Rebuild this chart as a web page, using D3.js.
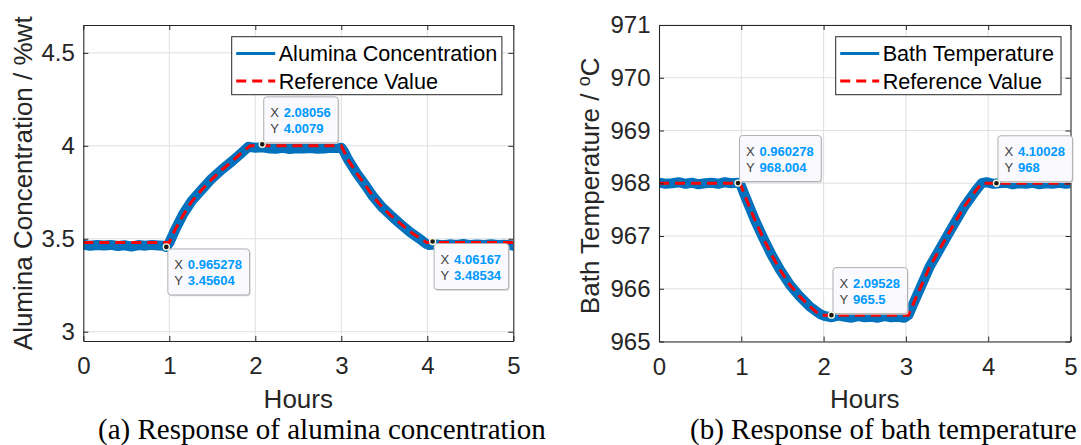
<!DOCTYPE html>
<html>
<head>
<meta charset="utf-8">
<script src="https://cdn.jsdelivr.net/npm/d3@7"></script>
<style>
  html, body { margin: 0; padding: 0; background: #fff; }
  svg { display: block; font-family: "Liberation Sans", Arial, sans-serif; }
</style>
</head>
<body>
<svg id="chart" width="1081" height="445"></svg>
<script>
// ---- shared axis ticks ----
const hourTicks = [0, 1, 2, 3, 4, 5];
const alumTicks = [3, 3.5, 4, 4.5];
const tempTicks = [965, 966, 967, 968, 969, 970, 971];

// ---- (a) alumina concentration, measured ----
const alumHours = [0, 0.08, 0.16, 0.24, 0.32, 0.40, 0.48, 0.56, 0.64, 0.72, 0.80, 0.88, 0.94, 0.965,
  1.0, 1.07, 1.16, 1.26, 1.38, 1.49, 1.61, 1.73, 1.84, 1.92, 1.96,
  2.0, 2.08, 2.16, 2.24, 2.32, 2.40, 2.48, 2.56, 2.64, 2.72, 2.80, 2.88, 2.96, 3.0,
  3.03, 3.08, 3.18, 3.28, 3.37, 3.47, 3.57, 3.68, 3.80, 3.92, 3.98,
  4.02, 4.1, 4.18, 4.26, 4.34, 4.42, 4.50, 4.58, 4.66, 4.74, 4.82, 4.90, 4.98, 5.0];
const alumValues = [3.468, 3.462, 3.466, 3.464, 3.467, 3.461, 3.465, 3.458, 3.466, 3.463, 3.467, 3.464, 3.462, 3.456,
  3.478, 3.55, 3.632, 3.703, 3.766, 3.822, 3.872, 3.917, 3.962, 3.995, 3.992,
  3.99, 3.992, 3.986, 3.984, 3.989, 3.983, 3.987, 3.985, 3.988, 3.984, 3.986, 3.99, 3.988, 3.99,
  3.97, 3.925, 3.852, 3.788, 3.727, 3.672, 3.628, 3.582, 3.536, 3.497, 3.475,
  3.466, 3.469, 3.465, 3.47, 3.467, 3.472, 3.466, 3.469, 3.467, 3.47, 3.466, 3.468, 3.465, 3.462];

// ---- (a) alumina concentration, reference ----
const alumRefHours = [0, 1.0, 1.066, 1.163, 1.26, 1.377, 1.493, 1.609, 1.726, 1.842, 1.94,
  3.0, 3.081, 3.179, 3.276, 3.372, 3.47, 3.566, 3.683, 3.799, 3.915, 3.995, 5.0];
const alumRefValues = [3.48, 3.48, 3.548, 3.628, 3.70, 3.763, 3.82, 3.87, 3.915, 3.963, 4.0,
  4.0, 3.924, 3.853, 3.79, 3.727, 3.673, 3.629, 3.584, 3.539, 3.503, 3.48, 3.48];

// ---- (a) data tips ----
const alumTipHours = [0.965278, 2.08056, 4.06167];
const alumTipValues = [3.45604, 4.0079, 3.48534];

// ---- (b) bath temperature, measured ----
const tempHours = [0, 0.08, 0.16, 0.24, 0.32, 0.40, 0.48, 0.56, 0.64, 0.72, 0.80, 0.88, 0.96,
  0.984, 1.066, 1.166, 1.267, 1.369, 1.47, 1.592, 1.713, 1.835, 1.956,
  2.02, 2.1, 2.18, 2.26, 2.34, 2.42, 2.5, 2.58, 2.66, 2.74, 2.82, 2.9, 2.98,
  3.03, 3.1, 3.29, 3.52, 3.71, 3.84, 3.92,
  3.98, 4.06, 4.14, 4.22, 4.3, 4.38, 4.46, 4.54, 4.62, 4.7, 4.78, 4.86, 4.94, 5.0];
const tempValues = [968.01, 967.99, 968.0, 968.02, 967.99, 968.01, 967.98, 968.0, 968.01, 967.99, 968.02, 968.0, 968.01,
  968.0, 967.68, 967.3, 966.96, 966.64, 966.36, 966.07, 965.85, 965.66, 965.52,
  965.48, 965.46, 965.49, 965.47, 965.45, 965.48, 965.46, 965.47, 965.45, 965.48, 965.46, 965.47, 965.45,
  965.5, 965.75, 966.42, 967.05, 967.56, 967.84, 968.0,
  968.02, 967.99, 968.0, 968.01, 967.98, 968.0, 967.99, 968.01, 967.98, 968.0, 967.99, 968.01, 967.99, 968.0];

// ---- (b) bath temperature, reference ----
const tempRefHours = [0, 0.984, 1.066, 1.166, 1.267, 1.369, 1.47, 1.592, 1.713, 1.835, 1.956,
  3.03, 3.1, 3.29, 3.52, 3.71, 3.84, 3.92, 5.0];
const tempRefValues = [968, 968, 967.68, 967.3, 966.96, 966.64, 966.36, 966.07, 965.85, 965.66, 965.5,
  965.5, 965.75, 966.42, 967.05, 967.56, 967.84, 968, 968];

// ---- (b) data tips ----
const tempTipHours = [0.960278, 2.09528, 4.10028];
const tempTipValues = [968.004, 965.5, 968];

// ---- styling ----
const AXIS = "#262626";
const GRID = "#dfdfdf";
const BLUE = "#0072BD";
const RED = "#FF0000";
const TIP_VALUE = "rgb(0,153,255)";
const TIP_LABEL = "#404040";

const svg = d3.select("#chart");
const zip = (a, b) => a.map((v, i) => [v, b[i]]);

const panels = [
  {
    id: "a",
    left: 83.3, right: 513.3, top: 25, bottom: 341,
    yDomain: [2.95, 4.65], yTicks: alumTicks,
    measured: zip(alumHours, alumValues),
    reference: zip(alumRefHours, alumRefValues),
    tips: zip(alumTipHours, alumTipValues),
    tipAbove: [false, true, false],
    yLabel: ["Alumina Concentration / %wt"],
    yLabelX: 31.7, yLabelY: 183.3,
    legendNames: ["Alumina Concentration", "Reference Value"],
    legendBox: [231.7, 36.7, 270.2, 58],
    caption: "(a) Response of alumina concentration", captionX: 98
  },
  {
    id: "b",
    left: 659, right: 1070.5, top: 25, bottom: 341.5,
    yDomain: [965, 971], yTicks: tempTicks,
    measured: zip(tempHours, tempValues),
    reference: zip(tempRefHours, tempRefValues),
    tips: zip(tempTipHours, tempTipValues),
    tipAbove: [true, true, true],
    yLabel: ["Bath Temperature / ", "o", "C"],
    yLabelX: 599.4, yLabelY: 185.8,
    legendNames: ["Bath Temperature", "Reference Value"],
    legendBox: [835.7, 36.7, 225.3, 58],
    caption: "(b) Response of bath temperature", captionX: 690
  }
];

const tipLayer = [];

panels.forEach(p => {
  const g = svg.append("g").attr("class", "panel-" + p.id);
  const x = d3.scaleLinear().domain([0, 5]).range([p.left, p.right]);
  const y = d3.scaleLinear().domain(p.yDomain).range([p.bottom, p.top]);

  // plot background
  g.append("rect")
    .attr("x", p.left).attr("y", p.top)
    .attr("width", p.right - p.left).attr("height", p.bottom - p.top)
    .attr("fill", "#fff");

  // grid
  g.append("g").selectAll("line").data(hourTicks.slice(1, -1)).join("line")
    .attr("x1", d => x(d)).attr("x2", d => x(d))
    .attr("y1", p.top).attr("y2", p.bottom)
    .attr("stroke", GRID).attr("stroke-width", 1);
  g.append("g").selectAll("line").data(p.yTicks).join("line")
    .attr("y1", d => y(d)).attr("y2", d => y(d))
    .attr("x1", p.left).attr("x2", p.right)
    .attr("stroke", GRID).attr("stroke-width", 1);

  // data lines (clipped to the plot box)
  const clipId = "clip-" + p.id;
  svg.append("clipPath").attr("id", clipId).append("rect")
    .attr("x", p.left).attr("y", p.top)
    .attr("width", p.right - p.left).attr("height", p.bottom - p.top);
  const line = d3.line().x(d => x(d[0])).y(d => y(d[1]));
  const lines = g.append("g").attr("clip-path", `url(#${clipId})`);
  lines.append("path").datum(p.measured)
    .attr("d", line).attr("fill", "none")
    .attr("stroke", BLUE).attr("stroke-width", 10)
    .attr("stroke-linejoin", "round").attr("stroke-linecap", "round");
  lines.append("path").datum(p.reference)
    .attr("d", line).attr("fill", "none")
    .attr("stroke", RED).attr("stroke-width", 3)
    .attr("stroke-dasharray", "10,6");

  // axes: labelled bottom/left, tick-only top/right, ticks pointing inward
  const styleAxis = sel => {
    sel.select(".domain").attr("stroke", AXIS).attr("stroke-width", 1.1);
    sel.selectAll(".tick line").attr("stroke", AXIS).attr("stroke-width", 1);
    sel.selectAll(".tick text").attr("fill", AXIS)
      .style("font-size", "24px").style("font-family", "'Liberation Sans', Arial, sans-serif");
  };
  g.append("g").attr("transform", `translate(0,${p.bottom})`)
    .call(d3.axisBottom(x).tickValues(hourTicks).tickFormat(d3.format("d"))
      .tickSizeInner(-5).tickSizeOuter(0).tickPadding(16))
    .call(styleAxis);
  g.append("g").attr("transform", `translate(0,${p.top})`)
    .call(d3.axisTop(x).tickValues(hourTicks).tickFormat("")
      .tickSizeInner(-5).tickSizeOuter(0))
    .call(styleAxis);
  g.append("g").attr("transform", `translate(${p.left},0)`)
    .call(d3.axisLeft(y).tickValues(p.yTicks).tickFormat(d => String(d))
      .tickSizeInner(-5).tickSizeOuter(0).tickPadding(8.5))
    .call(styleAxis);
  g.append("g").attr("transform", `translate(${p.right},0)`)
    .call(d3.axisRight(y).tickValues(p.yTicks).tickFormat("")
      .tickSizeInner(-5).tickSizeOuter(0))
    .call(styleAxis);

  // axis titles
  g.append("text")
    .attr("x", (p.left + p.right) / 2).attr("y", 408)
    .attr("text-anchor", "middle").attr("fill", AXIS)
    .style("font-size", "26px").text("Hours");
  const yl = g.append("text")
    .attr("transform", `translate(${p.yLabelX},${p.yLabelY}) rotate(-90)`)
    .attr("text-anchor", "middle").attr("fill", AXIS)
    .style("font-size", "26px");
  yl.append("tspan").text(p.yLabel[0]);
  if (p.yLabel.length > 1) {
    yl.append("tspan").attr("dy", "-0.55em").style("font-size", "18px").text(p.yLabel[1]);
    yl.append("tspan").attr("dy", "0.38em").text(p.yLabel[2]);
  }

  // legend
  const [lx, ly, lw, lh] = p.legendBox;
  const lg = g.append("g");
  lg.append("rect").attr("x", lx).attr("y", ly).attr("width", lw).attr("height", lh)
    .attr("fill", "#fff").attr("stroke", AXIS).attr("stroke-width", 1);
  const rows = [
    { name: p.legendNames[0], color: BLUE, dash: null, cy: ly + 16.8 },
    { name: p.legendNames[1], color: RED, dash: "10,6", cy: ly + 44.2 }
  ];
  rows.forEach(r => {
    lg.append("line")
      .attr("x1", lx + 4.5).attr("x2", lx + 43.5)
      .attr("y1", r.cy).attr("y2", r.cy)
      .attr("stroke", r.color).attr("stroke-width", 3)
      .attr("stroke-dasharray", r.dash);
    lg.append("text")
      .attr("x", lx + 47).attr("y", r.cy).attr("dy", "0.36em")
      .attr("fill", "#000").style("font-size", "21.6px").text(r.name);
  });

  // caption
  svg.append("text")
    .attr("x", p.captionX).attr("y", 439)
    .attr("fill", "#000")
    .style("font-family", "'Liberation Serif', 'Times New Roman', serif")
    .style("font-size", "29px")
    .text(p.caption);

  p.tips.forEach((t, i) => tipLayer.push({ x: x(t[0]), y: y(t[1]), hour: t[0], value: t[1], above: p.tipAbove[i] }));
});

// data tips drawn last so they sit above everything
const tipsG = svg.append("g").attr("class", "datatips");
tipLayer.forEach(t => {
  const tg = tipsG.append("g");
  const boxH = 46;
  const bx = t.x + 1.5;
  const by = t.above ? t.y - 1.5 - boxH : t.y + 2;

  const shadow = tg.append("rect");
  const box = tg.append("rect");
  const txt = tg.append("g").style("font-size", "13px");
  const rowsT = [["X", String(t.hour)], ["Y", String(t.value)]];
  let maxW = 0;
  rowsT.forEach((r, k) => {
    const base = by + 20.5 + k * 16;
    txt.append("text").attr("x", bx + 6.5).attr("y", base)
      .attr("fill", TIP_LABEL).text(r[0]);
    const v = txt.append("text").attr("x", bx + 20).attr("y", base)
      .attr("fill", TIP_VALUE).attr("font-weight", "bold").text(r[1]);
    maxW = Math.max(maxW, v.node().getComputedTextLength());
  });
  const boxW = 20 + maxW + 7.5;
  shadow.attr("x", bx + 1).attr("y", by + 1.2).attr("width", boxW).attr("height", boxH)
    .attr("rx", 3).attr("fill", "#d4d4d4");
  box.attr("x", bx).attr("y", by).attr("width", boxW).attr("height", boxH)
    .attr("rx", 3).attr("fill", "#f9f9fe").attr("stroke", "#b0b0b0").attr("stroke-width", 1);

  tg.append("circle").attr("cx", t.x).attr("cy", t.y).attr("r", 3)
    .attr("fill", "#1a1a1a").attr("stroke", "#fffbe0").attr("stroke-width", 1.3);
});
</script>
</body>
</html>
